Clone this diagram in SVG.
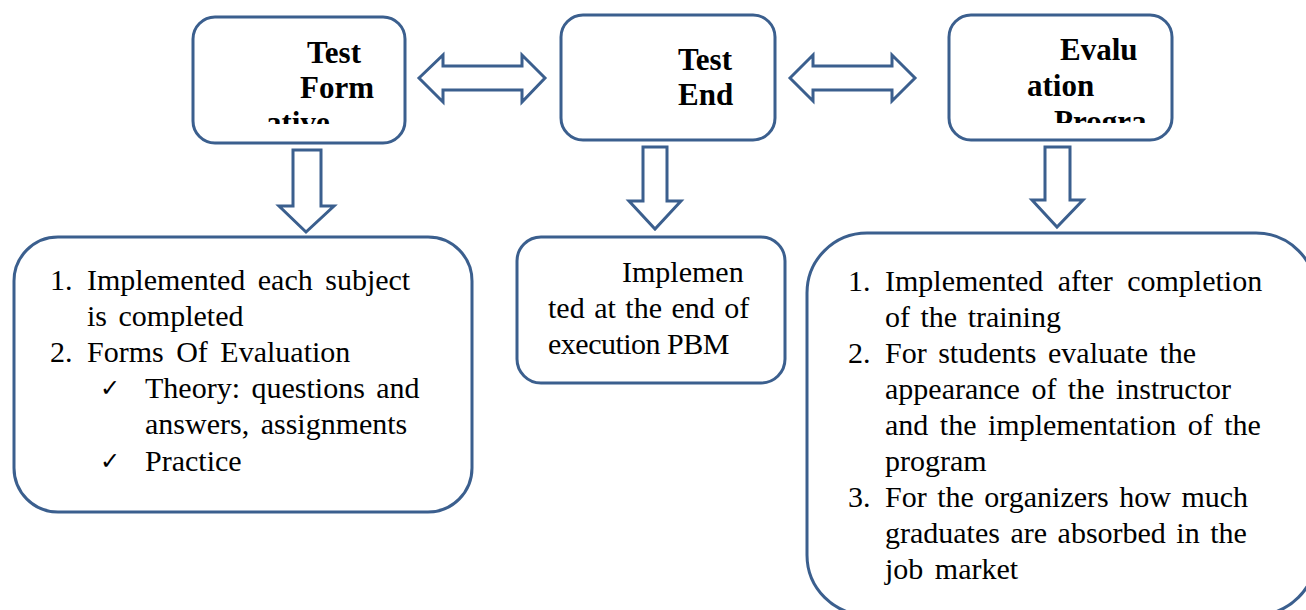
<svg xmlns="http://www.w3.org/2000/svg" width="1306" height="610" viewBox="0 0 1306 610">
<style>
.box{fill:#fff;stroke:#3B5F8E;stroke-width:3}
.arr{fill:#fff;stroke:#3B5F8E;stroke-width:3}
</style>
<defs>
<clipPath id="c1"><rect x="195" y="19" width="208" height="105"/></clipPath>
<clipPath id="c3"><rect x="951" y="17" width="219" height="106"/></clipPath>
</defs>
<g id="connectors">
<path class="arr" d="M419,78 L443,55 L443,66 L522,66 L522,55 L545,78 L522,102 L522,90 L443,90 L443,102 Z"/>
<path class="arr" d="M790,78 L813,55 L813,66 L892,66 L892,55 L915,78 L892,101 L892,90 L813,90 L813,101 Z"/>
<path class="arr" d="M293,150 L321,150 L321,206 L334,206 L306,232 L279,206 L293,206 Z"/>
<path class="arr" d="M643,147 L667,147 L667,201 L681,201 L655,229 L629,201 L643,201 Z"/>
<path class="arr" d="M1045,147 L1070,147 L1070,200 L1083,200 L1057,227 L1032,200 L1045,200 Z"/>
</g>
<g id="node-formative">
<rect class="box" x="193" y="17" width="212" height="126" rx="22"/>
<g clip-path="url(#c1)" font-family="Liberation Serif, serif" font-weight="bold" font-size="31">
<text x="307" y="63">Test</text>
<text x="300" y="98">Form</text>
<text x="266" y="133">ative</text>
</g>
</g>
<g id="node-end">
<rect class="box" x="561" y="15" width="214" height="125" rx="22"/>
<g font-family="Liberation Serif, serif" font-weight="bold" font-size="31">
<text x="678" y="70">Test</text>
<text x="678" y="105">End</text>
</g>
</g>
<g id="node-program">
<rect class="box" x="949" y="15" width="223" height="125" rx="22"/>
<g clip-path="url(#c3)" font-family="Liberation Serif, serif" font-weight="bold" font-size="31">
<text x="1060" y="60">Evalu</text>
<text x="1027" y="96">ation</text>
<text x="1054" y="132">Progra</text>
</g>
</g>
<g id="node-formative-detail">
<rect class="box" x="14" y="237" width="458" height="275" rx="44"/>
<g font-family="Liberation Serif, serif" font-size="30">
<text x="50" y="290">1.</text>
<text x="87" y="290" word-spacing="5">Implemented each subject</text>
<text x="87" y="326" word-spacing="4">is completed</text>
<text x="50" y="362">2.</text>
<text x="87" y="362" word-spacing="5">Forms Of Evaluation</text>
<text x="100" y="396" font-family="DejaVu Sans, sans-serif" font-size="24">&#10003;</text>
<text x="145" y="398" word-spacing="4">Theory: questions and</text>
<text x="145" y="434" word-spacing="4">answers, assignments</text>
<text x="100" y="469" font-family="DejaVu Sans, sans-serif" font-size="24">&#10003;</text>
<text x="145" y="471">Practice</text>
</g>
</g>
<g id="node-end-detail">
<rect class="box" x="517" y="237" width="268" height="146" rx="24"/>
<g font-family="Liberation Serif, serif" font-size="30">
<text x="622" y="282">Implemen</text>
<text x="548" y="318" word-spacing="2">ted at the end of</text>
<text x="548" y="354" letter-spacing="-0.5">execution PBM</text>
</g>
</g>
<g id="node-program-detail">
<rect class="box" x="807" y="233" width="509" height="382" rx="60"/>
<g font-family="Liberation Serif, serif" font-size="30">
<text x="848" y="291">1.</text>
<text x="885" y="291" word-spacing="7">Implemented after completion</text>
<text x="885" y="327" word-spacing="3">of the training</text>
<text x="848" y="363">2.</text>
<text x="885" y="363" word-spacing="4">For students evaluate the</text>
<text x="885" y="399" word-spacing="4">appearance of the instructor</text>
<text x="885" y="435" word-spacing="4">and the implementation of the</text>
<text x="885" y="471">program</text>
<text x="848" y="507">3.</text>
<text x="885" y="507" word-spacing="3">For the organizers how much</text>
<text x="885" y="543" word-spacing="3">graduates are absorbed in the</text>
<text x="885" y="579" word-spacing="4">job market</text>
</g>
</g>
</svg>
